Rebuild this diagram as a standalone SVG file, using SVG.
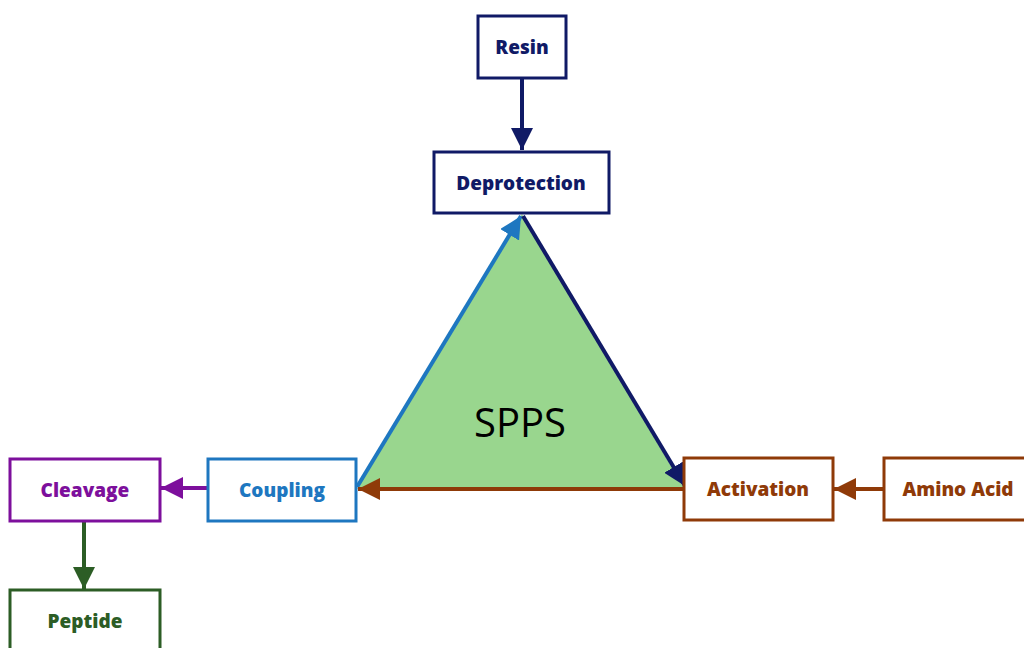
<svg xmlns="http://www.w3.org/2000/svg" width="1024" height="648" viewBox="0 0 1024 648">
<style>
.box{fill:#fff;stroke-width:3}
.lbl{font-family:"Open Sans","Liberation Sans",sans-serif;font-weight:800;font-size:19px;text-anchor:middle;dominant-baseline:central}
.ln{fill:none;stroke-width:4}
</style>
<defs>
<marker id="mNavy" viewBox="0 0 10 10" refX="10" refY="5" markerWidth="5.5" markerHeight="5.5" orient="auto" markerUnits="strokeWidth"><path d="M0,0L10,5L0,10z" fill="#101a66"/></marker>
<marker id="mBlue" viewBox="0 0 10 10" refX="10" refY="5" markerWidth="5.5" markerHeight="5.5" orient="auto" markerUnits="strokeWidth"><path d="M0,0L10,5L0,10z" fill="#1e77c0"/></marker>
<marker id="mBrown" viewBox="0 0 10 10" refX="10" refY="5" markerWidth="5.5" markerHeight="5.5" orient="auto" markerUnits="strokeWidth"><path d="M0,0L10,5L0,10z" fill="#8f3a08"/></marker>
<marker id="mPurple" viewBox="0 0 10 10" refX="10" refY="5" markerWidth="5.5" markerHeight="5.5" orient="auto" markerUnits="strokeWidth"><path d="M0,0L10,5L0,10z" fill="#7d0f9c"/></marker>
<marker id="mGreen" viewBox="0 0 10 10" refX="10" refY="5" markerWidth="5.5" markerHeight="5.5" orient="auto" markerUnits="strokeWidth"><path d="M0,0L10,5L0,10z" fill="#2c5d25"/></marker>
</defs>
<rect width="1024" height="648" fill="#fff"/>
<g id="spps">
<polygon points="522,214 357,489 684,488" fill="#99d68e"/>
<text x="520" y="421" font-family="Open Sans, Liberation Sans, sans-serif" font-size="40" text-anchor="middle" dominant-baseline="central" fill="#000">SPPS</text>
</g>
<g id="connectors">
<line class="ln" x1="522" y1="79" x2="522" y2="150" stroke="#101a66" marker-end="url(#mNavy)"/>
<line class="ln" x1="357" y1="487" x2="521" y2="216" stroke="#1e77c0" marker-end="url(#mBlue)"/>
<line class="ln" x1="523" y1="216" x2="685" y2="486" stroke="#101a66" marker-end="url(#mNavy)"/>
<line class="ln" x1="684" y1="489" x2="358" y2="489" stroke="#8f3a08" marker-end="url(#mBrown)"/>
<line class="ln" x1="884" y1="489" x2="834" y2="489" stroke="#8f3a08" marker-end="url(#mBrown)"/>
<line class="ln" x1="208" y1="488" x2="161" y2="488" stroke="#7d0f9c" marker-end="url(#mPurple)"/>
<line class="ln" x1="84" y1="521" x2="84" y2="589" stroke="#2c5d25" marker-end="url(#mGreen)"/>
</g>
<g id="resin"><rect class="box" x="478" y="16" width="88" height="62" stroke="#101a66"/><text class="lbl" x="522" y="47" fill="#101a66">Resin</text></g>
<g id="deprotection"><rect class="box" x="434" y="152" width="175" height="61" stroke="#101a66"/><text class="lbl" x="521" y="183" fill="#101a66">Deprotection</text></g>
<g id="coupling"><rect class="box" x="208" y="459" width="148" height="62" stroke="#1e77c0"/><text class="lbl" x="282" y="490" fill="#1e77c0">Coupling</text></g>
<g id="cleavage"><rect class="box" x="10" y="459" width="150" height="62" stroke="#7d0f9c"/><text class="lbl" x="85" y="490" fill="#7d0f9c">Cleavage</text></g>
<g id="peptide"><rect class="box" x="10" y="590" width="150" height="70" stroke="#2c5d25"/><text class="lbl" x="85" y="621" fill="#2c5d25">Peptide</text></g>
<g id="activation"><rect class="box" x="684" y="458" width="149" height="62" stroke="#8f3a08"/><text class="lbl" x="758" y="489" fill="#8f3a08">Activation</text></g>
<g id="aminoacid"><rect class="box" x="884" y="458" width="150" height="62" stroke="#8f3a08"/><text class="lbl" x="958" y="489" fill="#8f3a08">Amino Acid</text></g>
</svg>
